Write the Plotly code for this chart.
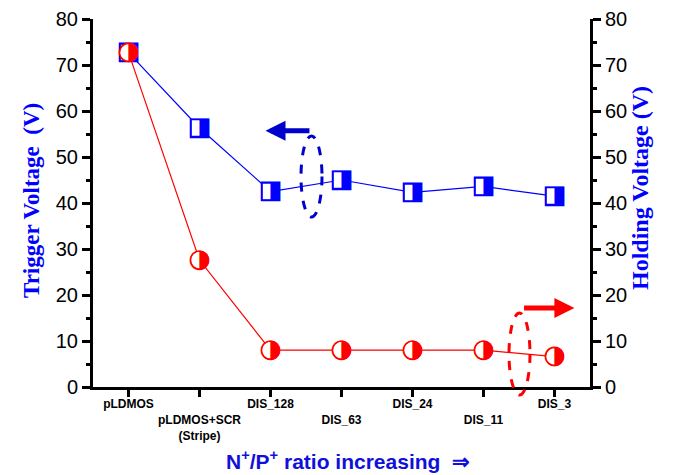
import plotly.graph_objects as go

categories = ["pLDMOS", "pLDMOS+SCR<br>(Stripe)", "DIS_128", "DIS_63", "DIS_24", "DIS_11", "DIS_3"]
tick_text = ["<b>pLDMOS</b>", "<b><br>pLDMOS+SCR<br>(Stripe)</b>", "<b>DIS_128</b>", "<b><br>DIS_63</b>",
             "<b>DIS_24</b>", "<b><br>DIS_11</b>", "<b>DIS_3</b>"]
trigger_v = [72.7, 56.3, 42.5, 45.0, 42.3, 43.6, 41.5]
holding_v = [72.7, 27.6, 8.0, 8.0, 8.0, 8.0, 6.6]
idx = list(range(len(categories)))

BLUE = "#0000FF"
RED = "#FF0000"
AX = dict(showline=True, linecolor="black", linewidth=3, mirror=False, zeroline=False,
          showgrid=False, automargin=False)

fig = go.Figure()
# Trigger voltage (left axis)
fig.add_trace(go.Scatter(x=idx, y=trigger_v, mode="lines+markers", yaxis="y",
                         line=dict(color=BLUE, width=1.2),
                         marker=dict(symbol="square", size=17, color="white",
                                     line=dict(color=BLUE, width=1.5)),
                         showlegend=False))
fig.add_trace(go.Scatter(x=idx, y=trigger_v, mode="text", yaxis="y", text=["◨"] * 7,
                         textposition="middle center",
                         textfont=dict(family="DejaVu Sans", size=26, color=BLUE),
                         showlegend=False))
# Holding voltage (right axis)
fig.add_trace(go.Scatter(x=idx, y=holding_v, mode="lines+markers", yaxis="y2",
                         line=dict(color=RED, width=1.2),
                         marker=dict(symbol="circle", size=18, color="white",
                                     line=dict(color=RED, width=1.2)),
                         showlegend=False))
fig.add_trace(go.Scatter(x=idx, y=holding_v, mode="text", yaxis="y2", text=["◑"] * 7,
                         textposition="middle center",
                         textfont=dict(family="DejaVu Sans", size=26, color=RED),
                         showlegend=False))

fig.update_layout(
    width=673, height=475, paper_bgcolor="white", plot_bgcolor="white",
    margin=dict(l=93, r=83, t=19, b=88, autoexpand=False),
    xaxis=dict(**AX, range=[-0.5, 6.5], tickmode="array", tickvals=idx, ticktext=tick_text,
               ticks="outside", ticklen=7, tickwidth=2.5, tickcolor="black", tickangle=0,
               ticklabelstandoff=-3,
               tickfont=dict(family="Liberation Sans", size=12, color="black")),
    yaxis=dict(**AX, range=[0, 80], dtick=10, ticks="outside", ticklen=8, tickwidth=2.5,
               tickcolor="black",
               tickfont=dict(family="Liberation Sans", size=20, color="black"),
               minor=dict(dtick=5, ticks="outside", ticklen=4, tickwidth=2.5, tickcolor="black")),
    yaxis2=dict(**AX, range=[0, 80], dtick=10, overlaying="y", side="right",
                ticks="outside", ticklen=8, tickwidth=2.5, tickcolor="black",
                tickfont=dict(family="Liberation Sans", size=20, color="black"),
                minor=dict(dtick=5, ticks="outside", ticklen=4, tickwidth=2.5, tickcolor="black")),
)

# Axis titles
fig.add_annotation(text="<b>Trigger Voltage  (V)</b>", xref="paper", yref="paper",
                   x=(31 - 93) / 497, y=(387 - 201) / 368, xanchor="center", yanchor="middle",
                   textangle=-90, showarrow=False,
                   font=dict(family="Liberation Serif", size=23, color=BLUE))
fig.add_annotation(text="<b>Holding Voltage (V)</b>", xref="paper", yref="paper",
                   x=(640 - 93) / 497, y=(387 - 188) / 368, xanchor="center", yanchor="middle",
                   textangle=-90, showarrow=False,
                   font=dict(family="Liberation Serif", size=24, color=BLUE))
fig.add_annotation(text="<b>N<sup>+</sup>/P<sup>+</sup> ratio increasing  ⇒</b>", xref="paper",
                   yref="paper", x=(348 - 93) / 497, y=(387 - 460) / 368, xanchor="center",
                   yanchor="middle", showarrow=False,
                   font=dict(family="Liberation Sans", size=21, color="#1010DD"))

# Decorations: arrows and ellipses
fig.add_annotation(x=1.93, y=55.7, ax=2.57, ay=55.7, xref="x", yref="y", axref="x", ayref="y",
                   text="", showarrow=True, arrowhead=2, arrowsize=0.8, arrowwidth=5,
                   arrowcolor="#0000CC")
fig.add_annotation(x=6.28, y=17.2, ax=5.55, ay=17.2, xref="x", yref="y", axref="x", ayref="y",
                   text="", showarrow=True, arrowhead=2, arrowsize=0.8, arrowwidth=5,
                   arrowcolor=RED)
fig.add_shape(type="circle", xref="paper", yref="paper",
              x0=(301 - 93) / 497, x1=(322 - 93) / 497, y0=(387 - 217) / 368, y1=(387 - 136) / 368,
              line=dict(color="#0000CC", width=3, dash="dash"))
fig.add_shape(type="circle", xref="paper", yref="paper",
              x0=(509 - 93) / 497, x1=(530 - 93) / 497, y0=(387 - 395) / 368, y1=(387 - 313) / 368,
              line=dict(color=RED, width=3, dash="dash"))

fig.write_html("out.html")
